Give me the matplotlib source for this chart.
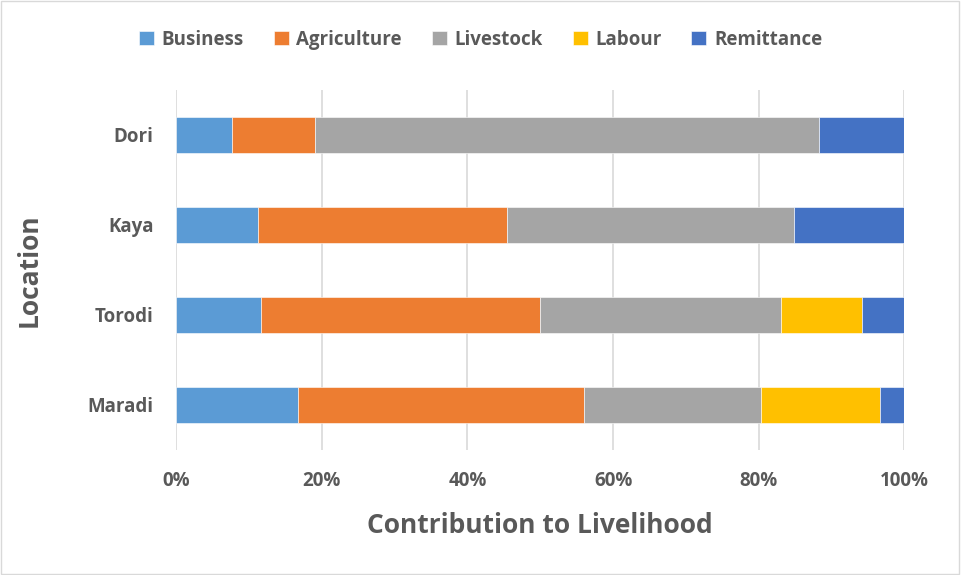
import numpy as np
import matplotlib.pyplot as plt

plt.rcParams['font.family'] = ['Open Sans', 'DejaVu Sans']
plt.rcParams['font.weight'] = 'bold'

locations = ['Maradi', 'Torodi', 'Kaya', 'Dori']
series = ['Business', 'Agriculture', 'Livestock', 'Labour', 'Remittance']
colors = ['#5B9BD5', '#ED7D31', '#A5A5A5', '#FFC000', '#4472C4']

# share of livelihood (%) per location, same order as locations
business = [16.8, 11.7, 11.2, 7.7]
agriculture = [39.2, 38.3, 34.3, 11.4]
livestock = [24.3, 33.0, 39.3, 69.2]
labour = [16.4, 11.2, 0.0, 0.0]
remittance = [3.3, 5.8, 15.2, 11.7]

data = np.array([business, agriculture, livestock, labour, remittance])
data = data / data.sum(axis=0)  # 100% stacked

fig = plt.figure(figsize=(9.61, 5.75), dpi=100)
ax = fig.add_axes([0.1831, 0.2174, 0.7581, 0.6261])

y = np.arange(len(locations))
left = np.zeros(len(locations))
for name, vals, c in zip(series, data, colors):
    ax.barh(y, vals, left=left, height=0.4, color=c, label=name,
            edgecolor='white', linewidth=0.4, zorder=3)
    left += vals

txt = '#595959'
ax.set_xlim(0, 1)
ax.set_ylim(-0.5, 3.5)
ax.set_xticks(np.arange(0, 1.01, 0.2))
ax.set_xticklabels(['0%', '20%', '40%', '60%', '80%', '100%'], fontweight='bold')
ax.set_yticks(y)
ax.set_yticklabels(locations, fontweight='bold')
ax.tick_params(length=0, labelsize=13.5, colors=txt)
ax.tick_params(axis='x', pad=15)
ax.tick_params(axis='y', pad=16)
ax.grid(axis='x', color='#D9D9D9', linewidth=1.2, zorder=0)
for s in ax.spines.values():
    s.set_visible(False)

ax.set_xlabel('Contribution to Livelihood', fontsize=19, color=txt, labelpad=15,
              fontweight='bold')
ax.set_ylabel('Location', fontsize=19, color=txt, fontweight='bold')
ax.yaxis.set_label_coords(-0.183, 0.5)

fig.legend(loc='upper center', bbox_to_anchor=(0.5, 0.978), ncol=5, frameon=False,
           prop={'size': 13.5, 'weight': 'bold'}, handlelength=0.8, handleheight=0.8,
           columnspacing=1.6, handletextpad=0.4, labelcolor=txt)

fig.patches.append(plt.Rectangle((0.001, 0.001), 0.997, 0.997, transform=fig.transFigure,
                                 fill=False, edgecolor='#D9D9D9', linewidth=1))

fig.savefig('out.png', dpi=100)
